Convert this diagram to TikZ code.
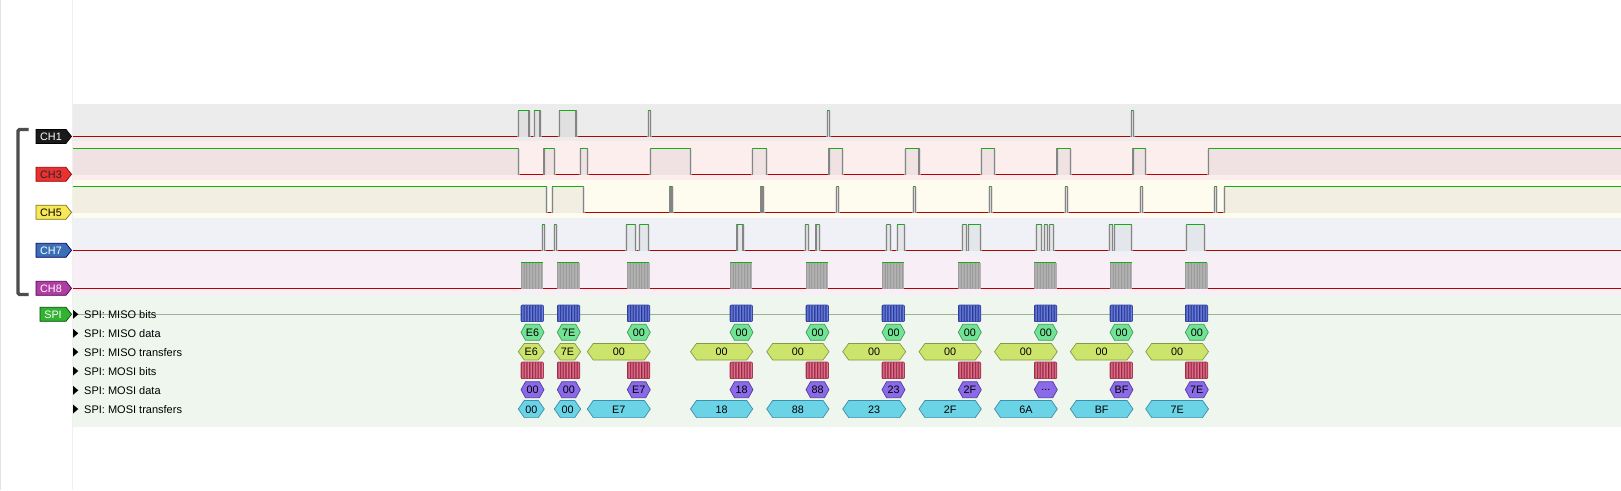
\documentclass[tikz,border=0pt]{standalone}
\usepackage{fontspec}
\setmainfont{Liberation Sans}
\definecolor{bandA}{HTML}{ECECEC}\definecolor{hiA}{HTML}{E0E0E0}
\definecolor{bandB}{HTML}{FDEEEE}\definecolor{hiB}{HTML}{F0E2E2}
\definecolor{bandC}{HTML}{FEFBEF}\definecolor{hiC}{HTML}{F2EFE2}
\definecolor{bandD}{HTML}{EFF1F6}\definecolor{hiD}{HTML}{E3E6EB}
\definecolor{bandE}{HTML}{F8EEF6}\definecolor{hiE}{HTML}{ADADAD}
\definecolor{bandS}{HTML}{EEF6EE}
\definecolor{loRed}{HTML}{B80000}\definecolor{hiGreen}{HTML}{10B010}
\definecolor{edgeGray}{HTML}{858585}
\definecolor{blueD}{HTML}{34449E}\definecolor{blueL}{HTML}{6E82E2}
\definecolor{redD}{HTML}{A2344F}\definecolor{redL}{HTML}{E57892}
\definecolor{dataG}{HTML}{72E394}\definecolor{dataGb}{HTML}{3E9A5E}
\definecolor{trY}{HTML}{CDE46C}\definecolor{trYb}{HTML}{869A42}
\definecolor{dataP}{HTML}{8B6AE8}\definecolor{dataPb}{HTML}{563AA6}
\definecolor{trC}{HTML}{6BD3E6}\definecolor{trCb}{HTML}{3B8FA8}
\definecolor{labK}{HTML}{1A1A1A}\definecolor{labR}{HTML}{E83232}
\definecolor{labY}{HTML}{F8E858}\definecolor{labB}{HTML}{3A6EB6}
\definecolor{labM}{HTML}{B03EA2}\definecolor{labG}{HTML}{32B232}
\newcommand\dotslbl{...}
\newcommand\wave[4]{%
  \draw[loline] (72.5,#2) -- (1621,#2);
  \foreach \a/\b in {#4}{
    \fill[#3] (\a,#1) rectangle (\b,#2+0.9);
  }
  \foreach \a/\b in {#4}{
    \ifdim\a pt>73pt \draw[edgehalo] (\a,#1) -- (\a,#2); \draw[edgeline] (\a,#1-0.5) -- (\a,#2+0.5);\fi
    \ifdim\b pt<1620pt \draw[edgehalo] (\b,#1) -- (\b,#2); \draw[edgeline] (\b,#1-0.5) -- (\b,#2+0.5);\fi
  }
  \foreach \a/\b in {#4}{
    \draw[hiline] (\a,#1) -- (\b,#1);
  }
}
\newcommand\hexa[8]{% a b cy h d fill draw text
  \draw[fill=#6, draw=#7, line width=0.7] (#1,#3) -- (#1+#5,#3-#4) -- (#2-#5,#3-#4) -- (#2,#3) -- (#2-#5,#3+#4) -- (#1+#5,#3+#4) -- cycle;
  \node[hexlbl] at ({(#1+#2)/2},#3+0.3) {#8};
}
\newcommand\bitsbox[4]{% s cy dark light
  \foreach \i in {0,...,7}{
    \shade[left color=#3, right color=#3, middle color=#4] (#1+\i*2.8,#2-8.3) rectangle (#1+\i*2.8+2.8,#2+8.3);
  }
  \draw[#3, line width=0.6, rounded corners=1.2] (#1,#2-8.3) rectangle (#1+22.4,#2+8.3);
}
\newcommand\chlabel[5]{% name cy fill draw text colour
  \draw[fill=#3, draw=#4, line width=0.7] (36,#2-7) -- (66,#2-7) -- (71.5,#2) -- (66,#2+7) -- (36,#2+7) -- cycle;
  \node[chlbl, text=#5] (#1) at (51,#2+0.3) {#1};
}
\begin{document}
\begin{tikzpicture}[x=1pt,y=-1pt,
  loline/.style={loRed, line width=1.2},
  hiline/.style={hiGreen, line width=1.4},
  edgeline/.style={edgeGray, line width=1.2},
  edgehalo/.style={gray!35, line width=3, opacity=0.6},
  hexlbl/.style={inner sep=0pt, font=\fontsize{10.8}{12}\selectfont},
  chlbl/.style={inner sep=0pt, font=\fontsize{10.8}{12}\selectfont},
  rowlbl/.style={inner sep=0pt, anchor=west, font=\fontsize{11}{13}\selectfont}]
\useasboundingbox (0,0) rectangle (1621,490);
\fill[white] (0,0) rectangle (1621,490);
% row bands
\fill[bandA] (72.5,104) rectangle (1621,141);
\fill[bandB] (72.5,141) rectangle (1621,180);
\fill[bandC] (72.5,180) rectangle (1621,218);
\fill[bandD] (72.5,218) rectangle (1621,256);
\fill[bandE] (72.5,256) rectangle (1621,294.5);
\fill[bandS] (72.5,294.5) rectangle (1621,426.7);
\draw[gray!22, line width=1] (0.6,0) -- (0.6,490);
\draw[gray!12, line width=0.8] (72.3,0) -- (72.3,490);
% CH1
\wave{110.5}{136.5}{hiA}{518.3/529, 534.3/540, 559.3/576, 648.3/650.7, 827.3/829.3, 1131.3/1133.3}
% CH3
\wave{148.5}{174.5}{hiB}{72.5/518.3, 544/554.3, 580.3/587.3, 650.7/690.7, 752.7/766.7, 829/842.7, 905.7/919, 981.3/994.7, 1057/1070.3, 1133/1145.7, 1208.5/1621}
% CH5
\wave{186.5}{212.5}{hiC}{72.5/546.7, 552.3/583.3, 670/672, 761/763, 836.7/838.7, 913.3/915.3, 989.3/991.3, 1065.3/1067.3, 1140.7/1142.7, 1214.7/1216.7, 1224.7/1621}
% CH7
\wave{224.5}{250.5}{hiD}{542.3/544.7, 554.3/556.3, 626.3/635.3, 639.7/648.7, 737/743, 805.3/808.3, 816/819.3, 886.7/890.3, 897.3/904.3, 962.7/966.3, 968.3/980.7, 1036.3/1041.7, 1044.3/1047.3, 1049.7/1053.3, 1109.3/1112.7, 1114.3/1131.7, 1186.7/1204.3}
% CH8 clock bursts
\draw[loline] (72.5,288.5) -- (1621,288.5);
\foreach \s in {521, 557.3, 627.3, 730, 806, 882, 958.3, 1034.3, 1110, 1185.3}{
  \fill[hiE] (\s,262.5) rectangle (\s+21.75,288.5);
  \foreach \i in {0,...,7}{
    \draw[gray!78, line width=0.7] (\s+\i*2.9,262.5) -- (\s+\i*2.9,288.5);
    \draw[gray!60, line width=0.6] (\s+\i*2.9+1.45,262.5) -- (\s+\i*2.9+1.45,288.5);
  }
  \draw[hiline] (\s,262.5) -- (\s+21.75,262.5);
}
% bracket
\draw[black!70, line width=3.2, rounded corners=1.5] (28.5,129.5) -- (18,129.5) -- (18,294.5) -- (28.5,294.5);
% channel labels
\chlabel{CH1}{136.4}{labK}{black}{white}
\chlabel{CH3}{174.3}{labR}{red!60!black}{black!85}
\chlabel{CH5}{212.3}{labY}{olive!80!black}{black}
\chlabel{CH7}{250.3}{labB}{blue!40!black}{white}
\chlabel{CH8}{288.3}{labM}{violet!60!black}{white}
% SPI label
\draw[fill=labG, draw=green!30!black, line width=0.7] (40,307.3) -- (66,307.3) -- (71.5,314.3) -- (66,321.3) -- (40,321.3) -- cycle;
\node[chlbl, text=white] (spi) at (53,314.6) {SPI};
% MISO bits baseline
\draw[gray!70!green!60!black, opacity=0.45, line width=0.9] (74,314.3) -- (1621,314.3);
% row headers
\foreach \y/\t [count=\k] in {314.3/{SPI: MISO bits}, 333.3/{SPI: MISO data}, 352/{SPI: MISO transfers}, 371/{SPI: MOSI bits}, 390.3/{SPI: MOSI data}, 409/{SPI: MOSI transfers}}{
  \fill[black] (73,\y-4.5) -- (78.3,\y) -- (73,\y+4.5) -- cycle;
  \node[rowlbl] (row\k) at (84,\y+0.3) {\t};
}
% bits and data
\foreach \s/\m/\o in {521/E6/00, 557.3/7E/00, 627.3/00/E7, 730/00/18, 806/00/88, 882/00/23, 958.3/00/2F, 1034.3/00/\dotslbl, 1110/00/BF, 1185.3/00/7E}{
  \bitsbox{\s}{313.3}{blueD}{blueL}
  \bitsbox{\s}{370.3}{redD}{redL}
  \hexa{\s}{\s+23}{332.3}{8}{4.5}{dataG}{dataGb}{\m}
  \hexa{\s}{\s+23}{389.7}{8}{4.5}{dataP}{dataPb}{\o}
}
% transfers
\foreach \a/\b/\m/\o in {518.3/544.3/E6/00, 554.3/580.7/7E/00, 587.3/650.3/00/E7, 690.5/752.7/00/18, 766.7/829/00/88, 842.7/905.7/00/23, 919/981.3/00/2F, 994.5/1057.3/00/6A, 1070.3/1133/00/BF, 1145.7/1208.5/00/7E}{
  \hexa{\a}{\b}{351.7}{8.3}{6}{trY}{trYb}{\m}
  \hexa{\a}{\b}{409}{8.6}{6}{trC}{trCb}{\o}
}
\end{tikzpicture}
\end{document}
